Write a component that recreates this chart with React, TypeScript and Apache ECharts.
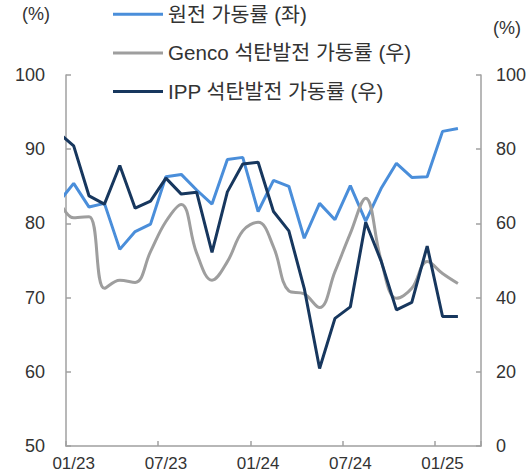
import React, { useEffect, useRef } from 'react';
import * as echarts from 'echarts';

// Data months (first one only feeds the clipped edge segment)
const months = ['12/22', '01/23', '02/23', '03/23', '04/23', '05/23', '06/23', '07/23', '08/23', '09/23', '10/23', '11/23', '12/23',
  '01/24', '02/24', '03/24', '04/24', '05/24', '06/24', '07/24', '08/24', '09/24', '10/24', '11/24', '12/24', '01/25', '02/25'];
// Axis categories
const axisMonths = ['01/23', '02/23', '03/23', '04/23', '05/23', '06/23', '07/23', '08/23', '09/23', '10/23', '11/23', '12/23',
  '01/24', '02/24', '03/24', '04/24', '05/24', '06/24', '07/24', '08/24', '09/24', '10/24', '11/24', '12/24', '01/25', '02/25', '03/25'];

const nuclear = [82.8, 85.4, 82.2, 82.7, 76.5, 78.9, 79.9, 86.3, 86.6, 84.5, 82.6, 88.6, 88.9, 81.6, 85.8, 85.0, 78.0, 82.7, 80.5, 85.1, 80.3, 84.7, 88.1, 86.2, 86.3, 92.4, 92.8];
const genco = [66.7, 61.5, 61.8, 42.5, 44.7, 44.1, 52.4, 60.5, 65.1, 52.0, 44.7, 49.7, 58.0, 60.3, 53.7, 41.8, 41.0, 37.3, 47.0, 57.3, 66.8, 50.1, 39.8, 42.5, 49.7, 46.5, 43.8];
const ipp = [84.5, 80.9, 67.4, 65.2, 75.6, 64.1, 66.0, 72.2, 67.9, 68.4, 52.2, 68.5, 76.0, 76.5, 63.2, 58.0, 42.5, 20.9, 34.4, 37.5, 60.3, 49.9, 36.7, 38.7, 53.9, 34.9, 34.9];

const seriesNames = ['원전 가동률 (좌)', 'Genco 석탄발전 가동률 (우)', 'IPP 석탄발전 가동률 (우)'];
const colors = ['#4A8EDA', '#9E9E9E', '#17375E'];
const leftTicks = { min: 50, max: 100, interval: 10 };
const rightTicks = { min: 0, max: 100, interval: 20 };

const FONT = '"Liberation Sans", Arial, "Noto Sans CJK KR", sans-serif';
const AXIS_COLOR = '#a0a0a0';
const TEXT_COLOR = '#333333';

const toXY = (vals: number[]) => months.map((_, i) => [i - 0.5, vals[i]]);

export default function App() {
  const ref = useRef<HTMLDivElement>(null);
  useEffect(() => {
    if (!ref.current) return;
    const chart = echarts.init(ref.current, undefined, { renderer: 'svg' });
    chart.setOption({
      animation: false,
      textStyle: { fontFamily: FONT },
      grid: { left: 66, right: 48, top: 75, bottom: 28, containLabel: false },
      legend: {
        orient: 'vertical',
        left: 113,
        top: 4,
        padding: 0,
        itemWidth: 50,
        itemHeight: 3,
        itemGap: 18,
        icon: 'rect',
        data: seriesNames,
        textStyle: { fontSize: 20.6, color: TEXT_COLOR, fontFamily: FONT },
      },
      graphic: [
        { type: 'text', left: 22, top: 5, style: { text: '(%)', fontSize: 18, fill: TEXT_COLOR, fontFamily: FONT } },
        { type: 'text', left: 493, top: 19, style: { text: '(%)', fontSize: 18, fill: TEXT_COLOR, fontFamily: FONT } },
      ],
      xAxis: [
        { type: 'value', min: 0, max: axisMonths.length, show: false },
        {
          type: 'category',
          data: axisMonths,
          boundaryGap: true,
          position: 'bottom',
          axisLine: { show: true, lineStyle: { color: AXIS_COLOR, width: 1.5 } },
          axisTick: { show: true, inside: true, length: 5, interval: 5, lineStyle: { color: AXIS_COLOR, width: 1.5 } },
          axisLabel: { interval: 5, fontSize: 17, color: TEXT_COLOR, margin: 9, fontFamily: FONT },
          splitLine: { show: false },
        },
      ],
      yAxis: [
        {
          type: 'value', position: 'left', ...leftTicks,
          axisLine: { show: true, lineStyle: { color: AXIS_COLOR, width: 1.5 } },
          axisTick: { show: true, inside: true, length: 5, lineStyle: { color: AXIS_COLOR, width: 1.5 } },
          axisLabel: { fontSize: 18, color: TEXT_COLOR, margin: 21, fontFamily: FONT },
          splitLine: { show: false },
        },
        {
          type: 'value', position: 'right', ...rightTicks,
          axisLine: { show: true, lineStyle: { color: AXIS_COLOR, width: 1.5 } },
          axisTick: { show: true, inside: true, length: 5, lineStyle: { color: AXIS_COLOR, width: 1.5 } },
          axisLabel: { fontSize: 18, color: TEXT_COLOR, margin: 15, fontFamily: FONT },
          splitLine: { show: false },
        },
      ],
      series: [
        {
          name: seriesNames[0], type: 'line', xAxisIndex: 0, yAxisIndex: 0,
          data: toXY(nuclear), symbol: 'none', clip: true,
          lineStyle: { color: colors[0], width: 3 }, itemStyle: { color: colors[0] },
        },
        {
          name: seriesNames[1], type: 'line', xAxisIndex: 0, yAxisIndex: 1,
          data: toXY(genco), symbol: 'none', clip: true, smooth: 0.4,
          lineStyle: { color: colors[1], width: 3 }, itemStyle: { color: colors[1] },
        },
        {
          name: seriesNames[2], type: 'line', xAxisIndex: 0, yAxisIndex: 1,
          data: toXY(ipp), symbol: 'none', clip: true,
          lineStyle: { color: colors[2], width: 3 }, itemStyle: { color: colors[2] },
        },
      ],
    });
    return () => chart.dispose();
  }, []);
  return <div ref={ref} style={{ position: 'absolute', left: 0, top: 0, width: 529, height: 474 }} />;
}
